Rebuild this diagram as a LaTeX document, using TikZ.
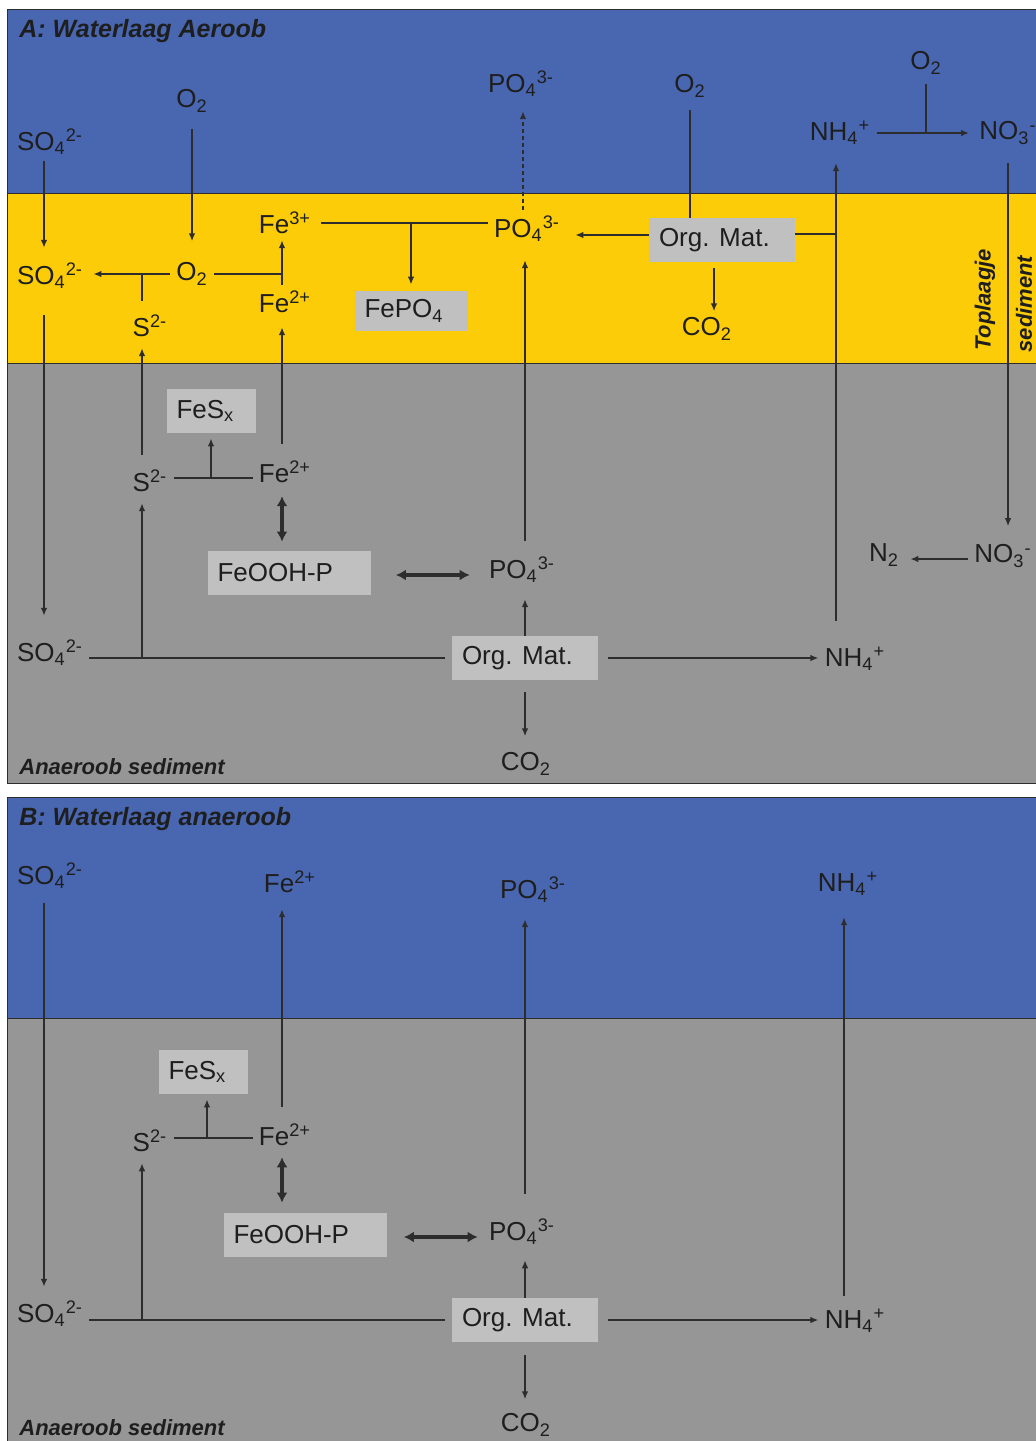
\documentclass[tikz,border=0pt]{standalone}
\usepackage{fontspec}
\setmainfont{Liberation Sans}
\usetikzlibrary{arrows.meta}
\definecolor{water}{RGB}{73,103,177}
\definecolor{toplayer}{RGB}{253,204,8}
\definecolor{sed}{RGB}{150,150,150}
\definecolor{boxgray}{RGB}{192,192,192}
\definecolor{lnc}{RGB}{45,45,45}
\definecolor{txt}{RGB}{30,30,30}
\newcommand{\chemion}[3]{#1\textsubscript{#2}\textsuperscript{#3}}
\begin{document}
\begin{tikzpicture}[x=0.5pt,y=-0.5pt,
  every node/.style={inner sep=3pt,text=txt,font=\fontsize{13}{15}\selectfont},
  box/.style={fill=boxgray,minimum height=22pt,inner xsep=5pt,inner ysep=2pt,text width=#1,align=flush left},
  ptitle/.style={anchor=west,inner sep=0pt,font=\bfseries\itshape\fontsize{12.5}{14}\selectfont},
  ntitle/.style={anchor=west,inner sep=0pt,font=\bfseries\itshape\fontsize{11}{13}\selectfont},
  rot/.style={rotate=90,inner sep=0pt,font=\bfseries\itshape\fontsize{11}{13}\selectfont},
  gap/.style 2 args={shorten <=#1pt,shorten >=#2pt},
  ln/.style={draw=lnc,line width=0.8pt},
  arr/.style={ln,-{Latex[length=4pt,width=3.3pt]}},
  dbl/.style={draw=lnc,line width=1.6pt,{Latex[length=5pt,width=5.5pt]}-{Latex[length=5pt,width=5.5pt]}}]
\useasboundingbox (0,0) rectangle (1036,1441);
\fill[white] (0,0) rectangle (1036,1441);
\filldraw[fill=water,draw=lnc] (7,9) rectangle (1045,193);
\filldraw[fill=toplayer,draw=lnc] (7,193) rectangle (1045,363);
\filldraw[fill=sed,draw=lnc] (7,363) rectangle (1045,783);
\filldraw[fill=water,draw=lnc] (7,797) rectangle (1045,1018);
\filldraw[fill=sed,draw=lnc] (7,1018) rectangle (1045,1450);

% A: water layer
\node[ptitle] (titA) at (19,31) {A: Waterlaag Aeroob};
\node (so4w) at (50,142) {\chemion{SO}{4}{2-}};
\node (o2w)  at (192,101) {O\textsubscript{2}};
\node (po4w) at (521,84) {\chemion{PO}{4}{3-}};
\node (o2m)  at (690,86) {O\textsubscript{2}};
\node (nh4w) at (840,133) {\chemion{NH}{4}{+}};
\node (o2n)  at (926,63) {O\textsubscript{2}};
\node (no3w) at (1008,133) {\chemion{NO}{3}{-}};
% A: top layer
\node (so4y) at (50,276) {\chemion{SO}{4}{2-}};
\node (o2y)  at (192,274) {O\textsubscript{2}};
\node (s2y)  at (150,326) {S\textsuperscript{2-}};
\node (fe3)  at (285,223) {Fe\textsuperscript{3+}};
\node (fe2y) at (285,302) {Fe\textsuperscript{2+}};
\node[box=46.5pt,minimum height=20pt] (fepo4) at (411,311) {FePO\textsubscript{4}};
\node (po4y) at (527,229) {\chemion{PO}{4}{3-}};
\node[box=63pt] (orgy) at (722,240) {Org. Mat.};
\node (co2y) at (707,329) {CO\textsubscript{2}};
\node[rot] (topl) at (985,300) {Toplaagje};
\node[rot] (sedi) at (1024,304) {sediment};
% A: sediment
\node[box=34.5pt] (fesxA) at (211,411) {FeS\textsubscript{x}};
\node (s2A)  at (150,481) {S\textsuperscript{2-}};
\node (fe2A) at (285,472) {Fe\textsuperscript{2+}};
\node[box=71.5pt] (feoohA) at (289,573) {FeOOH-P};
\node (po4A) at (522,570) {\chemion{PO}{4}{3-}};
\node[box=63pt] (orgA) at (525,658) {Org. Mat.};
\node (so4A) at (50,653) {\chemion{SO}{4}{2-}};
\node (nh4A) at (855,659) {\chemion{NH}{4}{+}};
\node (co2A) at (526,764) {CO\textsubscript{2}};
\node (no3A) at (1003,556) {\chemion{NO}{3}{-}};
\node (n2A)  at (884,555) {N\textsubscript{2}};
\node[ntitle] (anA) at (19,767) {Anaeroob sediment};

\draw[arr,gap={0}{4.5}] ([xshift=-3pt]so4w.south) -- ([xshift=-3pt]so4y.north);
\draw[arr,gap={5}{7.5}] (o2w) -- (o2y);
\draw[arr,gap={0}{2}] (o2y.west) -- (o2y.west -| so4y.east);
\draw[ln,gap={4}{0}] ([xshift=-4pt]s2y.north) -- ([xshift=-4pt]s2y.north |- o2y.west);
\draw[ln] (o2y.east) -- ([xshift=-1.5pt]o2y.east -| fe2y);
\draw[arr] ([xshift=-1.5pt]fe2y.north) -- ([xshift=-1.5pt]fe3.south);
\draw[ln,gap={2}{0}] (fe3.east) -- (fe3.east -| po4y.west);
\draw[arr,gap={0}{3}] (fepo4.north |- fe3.east) -- (fepo4.north);
\draw[arr,gap={0}{4},dash pattern=on 2pt off 1.5pt] ([xshift=1pt]po4w |- po4y.north) -- ([xshift=1pt]po4w.south);
\draw[arr,gap={0}{4.5}] ([yshift=2.5pt]orgy.west) -- ([yshift=2.5pt]orgy.west -| po4y.east);
\draw[ln,gap={3}{0}] (o2m.south) -- (o2m.south |- orgy.north);
\draw[arr,gap={3}{0}] ([xshift=-4pt]orgy.south) -- ([xshift=-4pt]orgy.south |- co2y.north);
\draw[ln] ([yshift=3pt]orgy.east) -- ([yshift=3pt,xshift=-2pt]orgy.east -| nh4w);
\draw[arr,gap={0}{2}] (nh4w.east) -- (no3w.west);
\draw[ln,gap={1.5}{0}] (o2n.south) -- (o2n.south |- nh4w.east);
\draw[arr,gap={6}{6}] (no3w.south) -- (no3w.south |- no3A.north);
\draw[arr,gap={0}{2.5}] ([yshift=-1.5pt]no3A.west) -- ([yshift=-1.5pt]no3A.west -| n2A.east);
\draw[arr,gap={10}{9}] ([xshift=-3pt]so4y.south) -- ([xshift=-3pt]so4A.north);
\draw[ln,gap={3.5}{0}] (orgA.west) -- (orgA.west -| so4A.east);
\draw[arr,gap={0}{2.5}] ([xshift=-4pt]s2A.south |- orgA.west) -- ([xshift=-4pt]s2A.south);
\draw[arr,gap={4.5}{2.5}] ([xshift=-4pt]s2A.north) -- ([xshift=-4pt]s2y.south);
\draw[ln] ([yshift=1.5pt]s2A.east) -- ([yshift=1.5pt]s2A.east -| fe2A.west);
\draw[arr,gap={0}{2.5}] ([yshift=1.5pt]fesxA.south |- s2A.east) -- (fesxA.south);
\draw[arr,gap={5.5}{4}] ([xshift=-1.5pt]fe2A.north) -- ([xshift=-1.5pt]fe2y.south);
\draw[dbl,gap={3.5}{4.5}] ([xshift=-1.5pt]fe2A.south) -- ([xshift=-1.5pt]fe2A.south |- feoohA.north);
\draw[dbl,gap={12.5}{6.5}] ([yshift=-1pt]feoohA.east) -- ([yshift=-1pt]feoohA.east -| po4A.west);
\draw[arr,gap={5}{6}] (orgA |- po4A.north) -- (orgA |- po4y.south);
\draw[arr,gap={0}{5}] (orgA.north) -- (orgA.north |- po4A.south);
\draw[arr,gap={6}{5}] (orgA.south) -- (orgA.south |- co2A.north);
\draw[arr,gap={5}{0}] (orgA.east) -- (orgA.east -| nh4A.west);
\draw[arr,gap={10}{6}] ([xshift=-2pt]nh4w.south |- nh4A.north) -- ([xshift=-2pt]nh4w.south);

% B: water layer
\node[ptitle] (titB) at (19,819) {B: Waterlaag anaeroob};
\node (so4Bw) at (50,876) {\chemion{SO}{4}{2-}};
\node (fe2Bw) at (290,882) {Fe\textsuperscript{2+}};
\node (po4Bw) at (533,890) {\chemion{PO}{4}{3-}};
\node (nh4Bw) at (848,884) {\chemion{NH}{4}{+}};
% B: sediment
\node[box=34.5pt] (fesxB) at (203,1072) {FeS\textsubscript{x}};
\node (s2B)  at (150,1141) {S\textsuperscript{2-}};
\node (fe2B) at (285,1135) {Fe\textsuperscript{2+}};
\node[box=71.5pt] (feoohB) at (305,1235) {FeOOH-P};
\node (po4B) at (522,1232) {\chemion{PO}{4}{3-}};
\node[box=63pt] (orgB) at (525,1320) {Org. Mat.};
\node (so4B) at (50,1314) {\chemion{SO}{4}{2-}};
\node (nh4B) at (855,1321) {\chemion{NH}{4}{+}};
\node (co2B) at (526,1425) {CO\textsubscript{2}};
\node[ntitle] (anB) at (19,1428) {Anaeroob sediment};

\draw[arr,gap={4}{4}] ([xshift=-3pt]so4Bw.south) -- ([xshift=-3pt]so4B.north);
\draw[arr,gap={5.5}{5}] ([xshift=-1.5pt]fe2B.north) -- ([xshift=-1.5pt]fe2B.north |- fe2Bw.south);
\draw[arr,gap={9.5}{5}] (orgB |- po4B.north) -- (orgB |- po4Bw.south);
\draw[arr,gap={3.5}{7.5}] ([xshift=-2pt]nh4Bw.south |- nh4B.north) -- ([xshift=-2pt]nh4Bw.south);
\draw[ln] ([yshift=1.5pt]s2B.east) -- ([yshift=1.5pt]s2B.east -| fe2B.west);
\draw[arr,gap={0}{2.5}] ([xshift=2pt,yshift=1.5pt]fesxB.south |- s2B.east) -- ([xshift=2pt]fesxB.south);
\draw[dbl,gap={2.5}{5}] ([xshift=-1.5pt]fe2B.south) -- ([xshift=-1.5pt]fe2B.south |- feoohB.north);
\draw[dbl,gap={8.5}{2.5}] ([yshift=-1pt]feoohB.east) -- ([yshift=-1pt]feoohB.east -| po4B.west);
\draw[arr,gap={0}{4.5}] (orgB.north) -- (orgB.north |- po4B.south);
\draw[arr,gap={6.5}{4}] (orgB.south) -- (orgB.south |- co2B.north);
\draw[arr,gap={5}{0}] (orgB.east) -- (orgB.east -| nh4B.west);
\draw[ln,gap={3.5}{0}] (orgB.west) -- (orgB.west -| so4B.east);
\draw[arr,gap={0}{2.5}] ([xshift=-4pt]s2B.south |- orgB.west) -- ([xshift=-4pt]s2B.south);
\end{tikzpicture}
\end{document}
